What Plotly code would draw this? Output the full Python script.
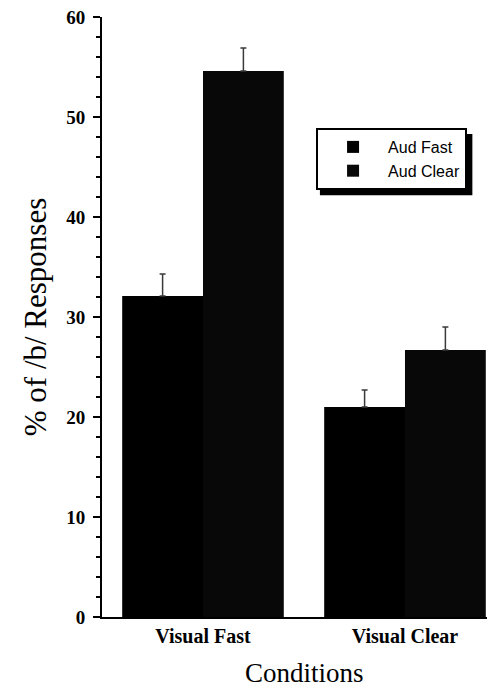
import plotly.graph_objects as go

conditions = ["Visual Fast", "Visual Clear"]
aud_fast = [32.1, 21.0]
aud_fast_err = [2.2, 1.7]
aud_clear = [54.6, 26.7]
aud_clear_err = [2.3, 2.3]

fig = go.Figure()
fig.add_trace(go.Bar(
    x=conditions, y=aud_fast, name="Aud Fast",
    marker=dict(color="#000000", line=dict(width=0)),
    error_y=dict(type="data", symmetric=False, array=aud_fast_err, arrayminus=[0, 0],
                 color="#3a3a3a", thickness=1.5, width=3),
))
fig.add_trace(go.Bar(
    x=conditions, y=aud_clear, name="Aud Clear",
    marker=dict(color="#080808", line=dict(width=0)),
    error_y=dict(type="data", symmetric=False, array=aud_clear_err, arrayminus=[0, 0],
                 color="#3a3a3a", thickness=1.5, width=3),
))

serif = "Liberation Serif, Times New Roman, DejaVu Serif, serif"
fig.update_layout(
    width=491, height=689,
    margin=dict(l=102, r=4, t=17, b=72),
    paper_bgcolor="white", plot_bgcolor="white",
    font=dict(family=serif, color="black"),
    barmode="group", bargap=0.2, bargroupgap=0,
    showlegend=True,
    legend=dict(x=0.556, y=0.815, xanchor="left", yanchor="top",
                bgcolor="white", bordercolor="black", borderwidth=2,
                font=dict(family="Liberation Sans", size=16, color="black"),
                itemwidth=60, tracegroupgap=0),
    shapes=[dict(type="rect", xref="paper", yref="paper", layer="above",
                 x0=0.566, x1=0.962, y0=0.703, y1=0.805,
                 fillcolor="black", line=dict(width=0))],
    annotations=[dict(text="Conditions", xref="paper", yref="paper",
                      x=0.527, y=-0.12, xanchor="center", yanchor="bottom",
                      showarrow=False, borderpad=0,
                      font=dict(family=serif, size=27, color="black"))],
    xaxis=dict(range=[-0.5, 1.406], showline=True, linecolor="black", linewidth=2,
               ticks="", showgrid=False, zeroline=False,
               tickfont=dict(family=serif, size=20, color="black", weight="bold"),
               ticklabelstandoff=0),
    yaxis=dict(range=[0, 60], dtick=10, showline=True, linecolor="black", linewidth=2,
               ticks="outside", ticklen=7, tickwidth=2, tickcolor="black",
               minor=dict(dtick=2, ticks="outside", ticklen=4, tickwidth=2, tickcolor="black"),
               showgrid=False, zeroline=False,
               tickfont=dict(family=serif, size=19, color="black", weight="bold"),
               ticklabelstandoff=4,
               title=dict(text="% of /b/ Responses", font=dict(family=serif, size=31, color="black"),
                          standoff=10)),
)

fig.write_html("out.html")
